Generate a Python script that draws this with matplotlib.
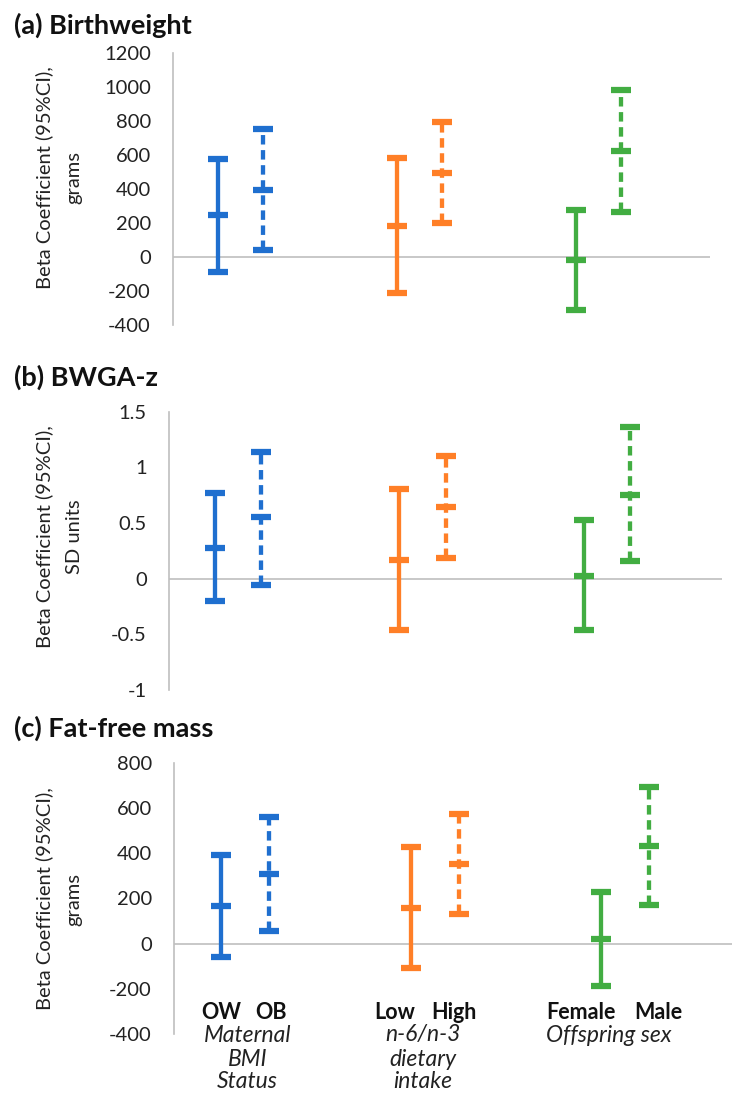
import numpy as np
import matplotlib
matplotlib.use('Agg')
import matplotlib.pyplot as plt
from matplotlib.transforms import blended_transform_factory

plt.rcParams['font.family'] = ['Lato', 'DejaVu Sans']

# ---- data (mid, lower, upper) ----
groups = [['Maternal', 'BMI', 'Status'], ['n-6/n-3', 'dietary', 'intake'], ['Offspring sex']]
levels = [['OW', 'OB'], ['Low', 'High'], ['Female', 'Male']]

bw_mid = [250, 396, 184, 495, -16, 626]
bw_lo = [-88, 43, -212, 200, -310, 265]
bw_hi = [579, 754, 585, 793, 279, 985]

z_mid = [0.28, 0.55, 0.165, 0.647, 0.024, 0.75]
z_lo = [-0.20, -0.054, -0.46, 0.19, -0.46, 0.156]
z_hi = [0.77, 1.14, 0.805, 1.105, 0.524, 1.365]

ffm_mid = [166, 309, 159, 353, 21, 433]
ffm_lo = [-60, 57, -106, 131, -186, 172]
ffm_hi = [390, 558, 427, 573, 230, 694]

colors = ['#1f6fcf', '#ff7f27', '#42ad42']

panels = [
    dict(title='(a) Birthweight', unit='grams', mid=bw_mid, lo=bw_lo, hi=bw_hi,
         ylim=(-400, 1200), yticks=np.arange(-400, 1201, 200),
         rect=[173/732, 1-325/1093, 537/732, (325-53.3)/1093], xlim=(0, 3),
         ty=25, ly=178),
    dict(title='(b) BWGA-z', unit='SD units', mid=z_mid, lo=z_lo, hi=z_hi,
         ylim=(-1, 1.5), yticks=[-1, -0.5, 0, 0.5, 1, 1.5],
         rect=[169/732, 1-690/1093, 553/732, (690-411.7)/1093], xlim=(0, 3),
         ty=377, ly=537),
    dict(title='(c) Fat-free mass', unit='grams', mid=ffm_mid, lo=ffm_lo, hi=ffm_hi,
         ylim=(-400, 800), yticks=np.arange(-400, 801, 200),
         rect=[174/732, 1-1034/1093, 558/732, (1034-762.7)/1093], xlim=(0, 2.937),
         ty=728, ly=899),
]

fig = plt.figure(figsize=(7.32, 10.93), dpi=100)

for p in panels:
    ax = fig.add_axes(p['rect'])
    for i in range(6):
        g = i // 2
        x = g + (0.25 if i % 2 == 0 else 0.5)
        m = p['mid'][i]
        err = [[m - p['lo'][i]], [p['hi'][i] - m]]
        line, caps, bars = ax.errorbar([x], [m], yerr=err, fmt='_', color=colors[g],
                                       ecolor=colors[g], elinewidth=3.1, capsize=7.2,
                                       capthick=4.5, markersize=14.4, mew=4.5, zorder=3)
        if i % 2 == 1:
            bars[0].set_linestyle((0, (2.2, 1.3)))
            bars[0].set_capstyle('butt')
    ax.axhline(0, color='#bfbfbf', lw=1.2, zorder=1)
    ax.set_xlim(*p['xlim'])
    ax.set_ylim(*p['ylim'])
    ax.set_yticks(p['yticks'])
    ax.set_yticklabels([('%g' % t) for t in p['yticks']], fontsize=14.5, color='#222222')
    ax.tick_params(axis='y', length=0, pad=16)
    ax.set_xticks([])
    for s in ['top', 'right', 'bottom']:
        ax.spines[s].set_visible(False)
    ax.spines['left'].set_color('#bfbfbf')
    ax.spines['left'].set_linewidth(1.2)
    fig.text(14/732, 1 - p['ty']/1093, p['title'], fontsize=19.5, fontweight='bold',
             ha='left', va='center', color='#111111')
    fig.text(59/732, 1 - p['ly']/1093, 'Beta Coefficient (95%CI),\n' + p['unit'],
             rotation=90, ha='center', va='center', multialignment='center',
             fontsize=14.5, linespacing=1.9, color='#222222')

# category labels under the last panel
trans = blended_transform_factory(ax.transData, fig.transFigure)
lvl_x = [[0.25, 0.51], [1.16, 1.476], [2.14, 2.55]]
grp_x = [0.387, 1.31, 2.29]
line_y = [1035, 1059, 1082]
for g in range(3):
    for k in range(2):
        ax.text(lvl_x[g][k], 1 - 1012.7/1093, levels[g][k], transform=trans,
                ha='center', va='center', fontsize=15.5, fontweight='bold', color='#111111')
    for k, word in enumerate(groups[g]):
        ax.text(grp_x[g], 1 - line_y[k]/1093, word, transform=trans, ha='center',
                va='center', fontsize=16.5, style='italic', color='#222222')

fig.savefig('out.png', dpi=100)
